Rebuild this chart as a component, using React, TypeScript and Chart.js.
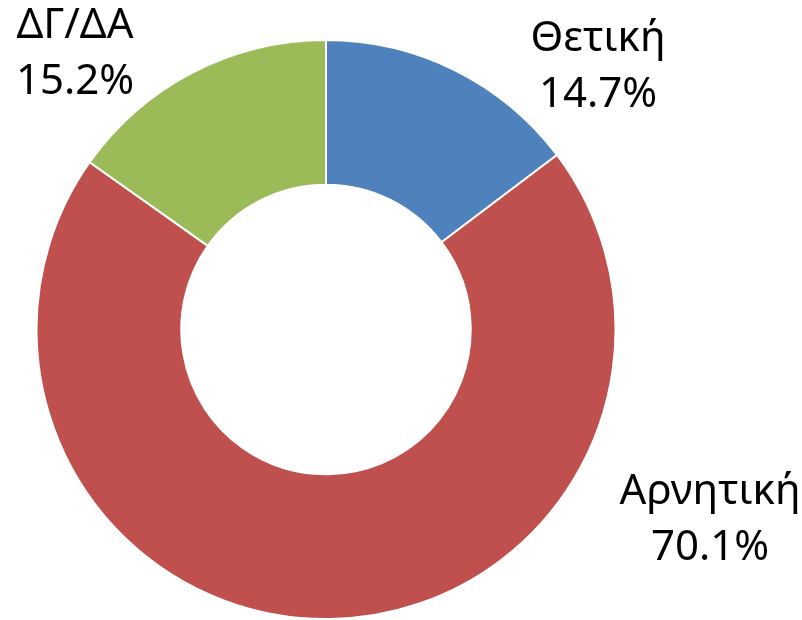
import React, { useEffect, useRef } from "react";
import { Chart, registerables } from "chart.js";

Chart.register(...registerables);

const categories = ["Θετική", "Αρνητική", "ΔΓ/ΔΑ"];
const values = [14.7, 70.1, 15.2];
const colors = ["#4F81BD", "#C0504D", "#9BBB59"];

// label anchor positions (canvas px) for the outside labels
const labelPos: [number, number][] = [
  [598, 67],
  [710, 520],
  [75, 54],
];

const labelPlugin = {
  id: "outsideLabels",
  afterDraw(chart: any) {
    const ctx = chart.ctx;
    const ds = chart.data.datasets[0];
    ctx.save();
    ctx.fillStyle = "#000000";
    ctx.font = "42px 'Noto Sans'";
    ctx.textAlign = "center";
    ctx.textBaseline = "middle";
    chart.data.labels.forEach((lab: string, i: number) => {
      const [x, y] = labelPos[i];
      ctx.fillText(lab, x, y - 28);
      ctx.fillText(ds.data[i].toFixed(1) + "%", x, y + 28);
    });
    ctx.restore();
  },
};

export default function App() {
  const ref = useRef<HTMLCanvasElement>(null);
  useEffect(() => {
    if (!ref.current) return;
    const chart = new Chart(ref.current, {
      type: "doughnut",
      data: {
        labels: categories,
        datasets: [
          {
            data: values,
            backgroundColor: colors,
            borderColor: "#FFFFFF",
            borderWidth: 2,
          },
        ],
      },
      options: {
        responsive: false,
        animation: false,
        cutout: "50%",
        layout: { padding: { left: 35, top: 39, right: 185, bottom: -1 } },
        plugins: {
          legend: { display: false },
          tooltip: { enabled: false },
        },
      },
      plugins: [labelPlugin],
    });
    return () => chart.destroy();
  }, []);
  return (
    <div style={{ position: "fixed", left: 0, top: 0, width: 802, height: 620, background: "#fff" }}>
      <canvas ref={ref} width={802} height={620} style={{ display: "block" }} />
    </div>
  );
}
